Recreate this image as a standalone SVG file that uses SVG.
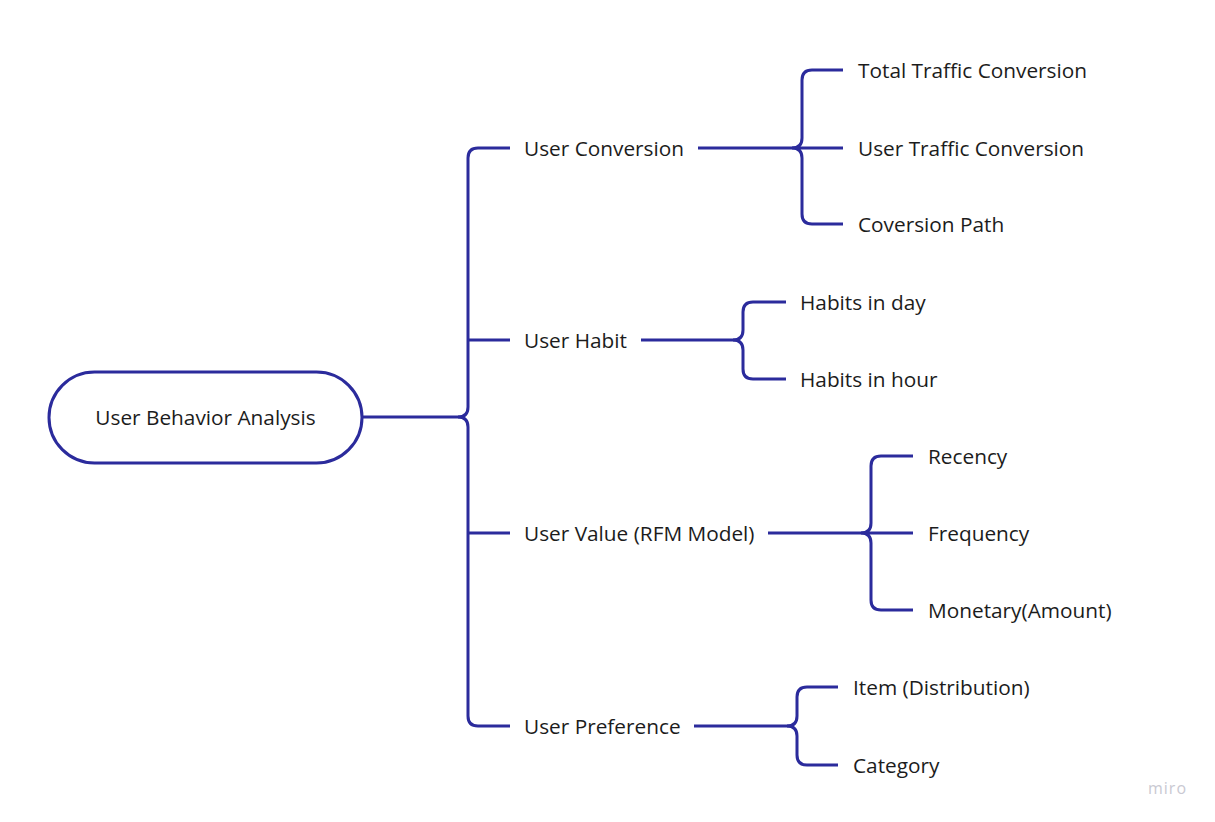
<svg xmlns="http://www.w3.org/2000/svg" width="1215" height="822" viewBox="0 0 1215 822">
<style>
.t{font-family:"Open Sans","Noto Sans",sans-serif;font-size:20.8px;fill:#1c1c1c;dominant-baseline:central}
.c{fill:none;stroke:#2b2b9c;stroke-width:3;stroke-linecap:butt;stroke-linejoin:round}
.wm{font-family:"Open Sans","Noto Sans",sans-serif;font-size:16px;fill:#c9c9d2;letter-spacing:1px}
</style>
<rect width="1215" height="822" fill="#ffffff"/>
<g id="connectors">
<path class="c" d="M362 417 H458 Q468 417 468 407 V158 Q468 148 478 148 H510"/>
<path class="c" d="M458 417 Q468 417 468 427 V716 Q468 726 478 726 H510"/>
<path class="c" d="M468 340 H510 M468 533 H510"/>
<path class="c" d="M698 148 H792 Q802 148 802 138 V80 Q802 70 812 70 H843"/>
<path class="c" d="M792 148 Q802 148 802 158 V214 Q802 224 812 224 H843 M792 148 H843"/>
<path class="c" d="M641 340 H733 Q743 340 743 330 V312 Q743 302 753 302 H786"/>
<path class="c" d="M733 340 Q743 340 743 350 V369 Q743 379 753 379 H786"/>
<path class="c" d="M768 533 H861 Q871 533 871 523 V466 Q871 456 881 456 H913"/>
<path class="c" d="M861 533 Q871 533 871 543 V600 Q871 610 881 610 H913 M861 533 H913"/>
<path class="c" d="M694 726 H787 Q797 726 797 716 V697 Q797 687 807 687 H838"/>
<path class="c" d="M787 726 Q797 726 797 736 V755 Q797 765 807 765 H838"/>
</g>
<g id="root">
<rect x="49" y="372" width="313" height="91" rx="45.5" fill="#ffffff" stroke="#2b2b9c" stroke-width="3"/>
<text class="t" x="205.5" y="417" text-anchor="middle">User Behavior Analysis</text>
</g>
<g id="user-conversion"><text class="t" x="524" y="148">User Conversion</text></g>
<g id="user-habit"><text class="t" x="524" y="340">User Habit</text></g>
<g id="user-value"><text class="t" x="524" y="533">User Value (RFM Model)</text></g>
<g id="user-preference"><text class="t" x="524" y="726">User Preference</text></g>
<g id="total-traffic"><text class="t" x="858" y="70">Total Traffic Conversion</text></g>
<g id="user-traffic"><text class="t" x="858" y="148">User Traffic Conversion</text></g>
<g id="conversion-path"><text class="t" x="858" y="224">Coversion Path</text></g>
<g id="habits-day"><text class="t" x="800" y="302">Habits in day</text></g>
<g id="habits-hour"><text class="t" x="800" y="379">Habits in hour</text></g>
<g id="recency"><text class="t" x="928" y="456">Recency</text></g>
<g id="frequency"><text class="t" x="928" y="533">Frequency</text></g>
<g id="monetary"><text class="t" x="928" y="610">Monetary(Amount)</text></g>
<g id="item"><text class="t" x="853" y="687">Item (Distribution)</text></g>
<g id="category"><text class="t" x="853" y="765">Category</text></g>
<text class="wm" x="1148" y="794">miro</text>
</svg>
